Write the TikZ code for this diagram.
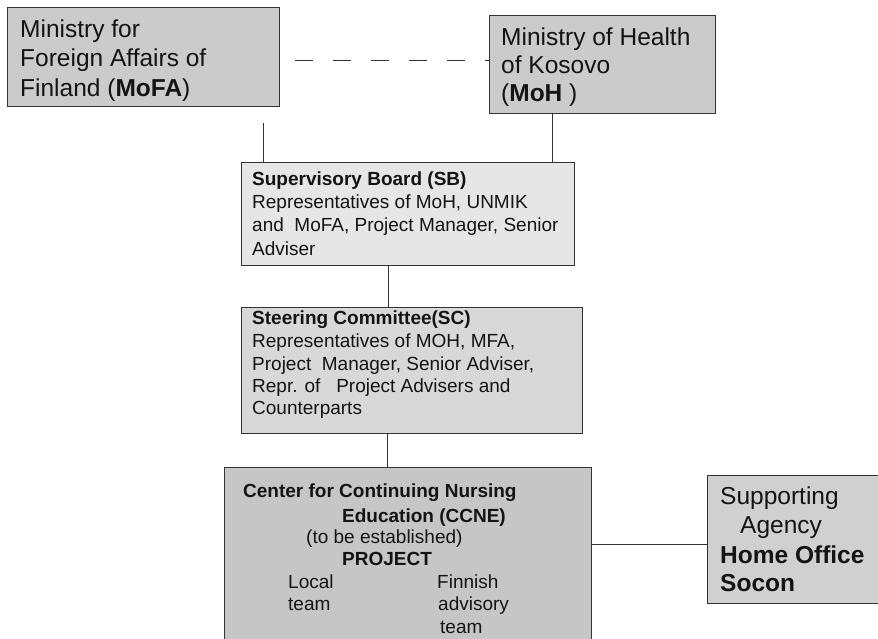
\documentclass[tikz,border=0pt]{standalone}
\usepackage{fontspec}
\setmainfont{Liberation Sans}
\definecolor{fillA}{HTML}{CBCBCB}
\definecolor{fillSB}{HTML}{E6E6E6}
\definecolor{fillSC}{HTML}{D8D8D8}
\definecolor{fillCC}{HTML}{C6C6C6}
\definecolor{fillSA}{HTML}{D0D0D0}
\definecolor{edge}{HTML}{333333}
\definecolor{ink}{HTML}{141414}
\begin{document}
\begin{tikzpicture}[x=1pt,y=-1pt,
  box/.style={draw=edge, line width=1.2pt, inner sep=0pt, anchor=north west},
  big/.style={anchor=base west, inner sep=0pt, text=ink, font=\fontsize{24.5}{28}\selectfont},
  mid/.style={anchor=base west, inner sep=0pt, text=ink, font=\fontsize{19}{22}\selectfont},
  link/.style={draw=edge, line width=1pt}]
\clip (0,0) rectangle (878,639);
\fill[white] (0,0) rectangle (878,639);

% boxes
\node[box, fill=fillA, minimum width=272pt, minimum height=99pt] (mofa) at (7,7) {};
\node[box, fill=fillA, minimum width=226pt, minimum height=98pt] (moh) at (489,15) {};
\node[box, fill=fillSB, minimum width=333pt, minimum height=103pt] (sb) at (241,162) {};
\node[box, fill=fillSC, minimum width=341pt, minimum height=126pt] (sc) at (241,307) {};
\node[box, fill=fillCC, minimum width=367pt, minimum height=190pt] (ccne) at (224,467) {};
\node[box, fill=fillSA, minimum width=190pt, minimum height=128pt] (sa) at (707,475) {};

% MoFA text
\node[big] (t1) at (20,38) {Ministry for};
\node[big] (t2) at (20,67) {Foreign Affairs of};
\node[big] (t3) at (20,97) {Finland (\textbf{MoFA})};

% MoH text
\node[big] (t4) at (501,46) {Ministry of Health};
\node[big] (t5) at (501,74) {of Kosovo};
\node[big] (t6) at (501,102) {(\textbf{MoH} )};

% SB text
\node[mid] (t7) at (252,186) {\textbf{Supervisory Board (SB)}};
\node[mid] (t8) at (252,209) {Representatives of MoH, UNMIK};
\node[mid] (t9) at (252,232) {and\ \ MoFA, Project Manager, Senior};
\node[mid] (t10) at (252,255) {Adviser};

% SC text
\node[mid] (t11) at (252,324) {\textbf{Steering Committee(SC)}};
\node[mid] (t12) at (252,347) {Representatives of MOH, MFA,};
\node[mid] (t13) at (252,370) {Project\ \ Manager, Senior Adviser,};
\node[mid] (t14) at (252,392) {Repr. of\ \ \ Project Advisers and};
\node[mid] (t15) at (252,414) {Counterparts};

% CCNE text
\node[mid] (t16) at (243,497) {\textbf{Center for Continuing Nursing}};
\node[mid] (t17) at (342,522) {\textbf{Education (CCNE)}};
\node[mid] (t18) at (306,543) {(to be established)};
\node[mid] (t19) at (342,565) {\textbf{PROJECT}};
\node[mid] (t20) at (288,588) {Local};
\node[mid] (t21) at (288,610) {team};
\node[mid] (t22) at (437,588) {Finnish};
\node[mid] (t23) at (438,610) {advisory};
\node[mid] (t24) at (440,633) {team};

% Supporting agency text
\node[big] (t25) at (720,504) {Supporting};
\node[big] (t26) at (740,533) {Agency};
\node[big] (t27) at (720,563) {\textbf{Home Office}};
\node[big] (t28) at (720,591) {\textbf{Socon}};

% connectors
\coordinate (dashStart) at (295,61);
\draw[link, dash pattern=on 18pt off 20pt] (dashStart) -- (dashStart -| moh.west);
\coordinate (mofaLink) at (263,123);
\draw[link] (mofaLink) -- (mofaLink |- sb.north);
\coordinate (mohLink) at (552,113);
\draw[link] (mohLink) -- (mohLink |- sb.north);
\coordinate (sbLink) at (388,265);
\draw[link] (sbLink) -- (sbLink |- sc.north);
\coordinate (scLink) at (387,433);
\draw[link] (scLink) -- (scLink |- ccne.north);
\coordinate (ccLink) at (591,544);
\draw[link] (ccLink) -- (ccLink -| sa.west);
\end{tikzpicture}
\end{document}
